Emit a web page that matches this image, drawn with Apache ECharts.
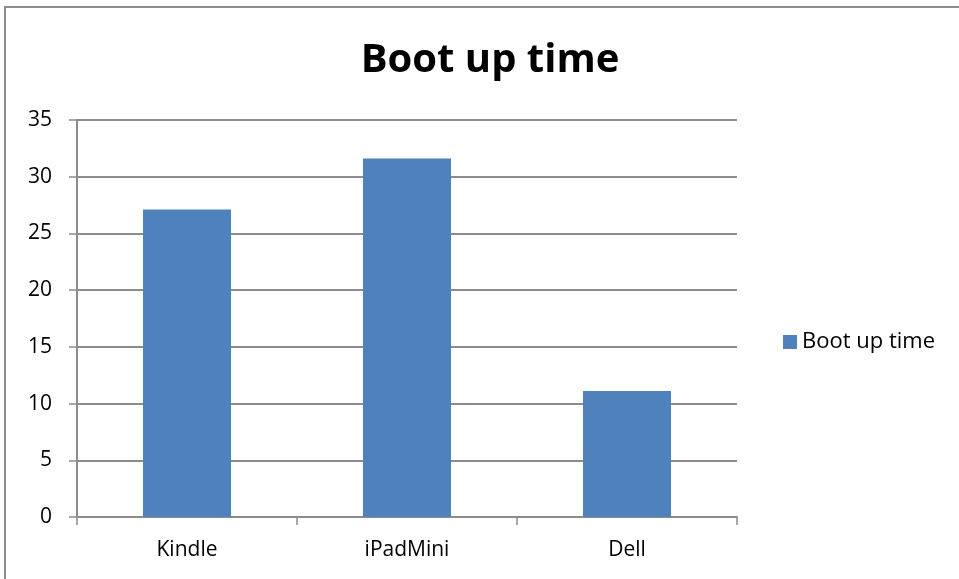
<!DOCTYPE html>
<html>
<head>
<meta charset="utf-8">
<script src="https://cdn.jsdelivr.net/npm/echarts@6/dist/echarts.min.js"></script>
<style>
    html, body {
        margin: 0;
        padding: 0;
        background: #fff;
        overflow: hidden;
    }
    #frame {
        position: absolute;
        left: 4px;
        top: 6px;
        width: 1000px;
        height: 600px;
        border-left: 2px solid #8c8c8c;
        border-top: 2px solid #8c8c8c;
    }
    #chart {
        position: absolute;
        left: 0;
        top: 0;
        width: 959px;
        height: 579px;
    }
</style>
</head>
<body>
<div id="frame"></div>
<div id="chart"></div>
<script>
    // data
    var categories = ['Kindle', 'iPadMini', 'Dell'];
    var bootTimes = [27.1, 31.6, 11.1];
    var seriesName = 'Boot up time';

    var font = 'Open Sans';
    var myChart = echarts.init(document.getElementById('chart'));
    myChart.setOption({
        animation: false,
        title: {
            text: 'Boot up time',
            left: 485,
            top: 36,
            textAlign: 'center',
            textStyle: {
                fontFamily: font,
                fontSize: 40,
                fontWeight: 'bold',
                color: '#000'
            }
        },
        legend: {
            data: [seriesName],
            left: 778,
            top: 326,
            itemWidth: 14,
            itemHeight: 14,
            itemGap: 8,
            icon: 'rect',
            textStyle: {
                fontFamily: font,
                fontSize: 22,
                color: '#000'
            }
        },
        grid: {
            left: 77,
            right: 222,
            top: 120,
            bottom: 62,
            containLabel: false
        },
        xAxis: {
            type: 'category',
            data: categories,
            axisLine: { lineStyle: { color: '#8c8c8c', width: 2 } },
            axisTick: { show: true, length: 8, lineStyle: { color: '#8c8c8c', width: 1.5 } },
            axisLabel: {
                fontFamily: font,
                fontSize: 21,
                color: '#000',
                margin: 23
            }
        },
        yAxis: {
            type: 'value',
            min: 0,
            max: 35,
            interval: 5,
            axisLine: { show: true, lineStyle: { color: '#8c8c8c', width: 2 } },
            axisTick: { show: true, length: 8, lineStyle: { color: '#8c8c8c', width: 1.5 } },
            splitLine: { lineStyle: { color: '#8c8c8c', width: 2 } },
            axisLabel: {
                fontFamily: font,
                fontSize: 21,
                color: '#000',
                margin: 25
            }
        },
        series: [
            {
                name: seriesName,
                type: 'bar',
                data: bootTimes,
                barWidth: '40%',
                itemStyle: { color: '#4f81bd' }
            }
        ]
    });
</script>
</body>
</html>
